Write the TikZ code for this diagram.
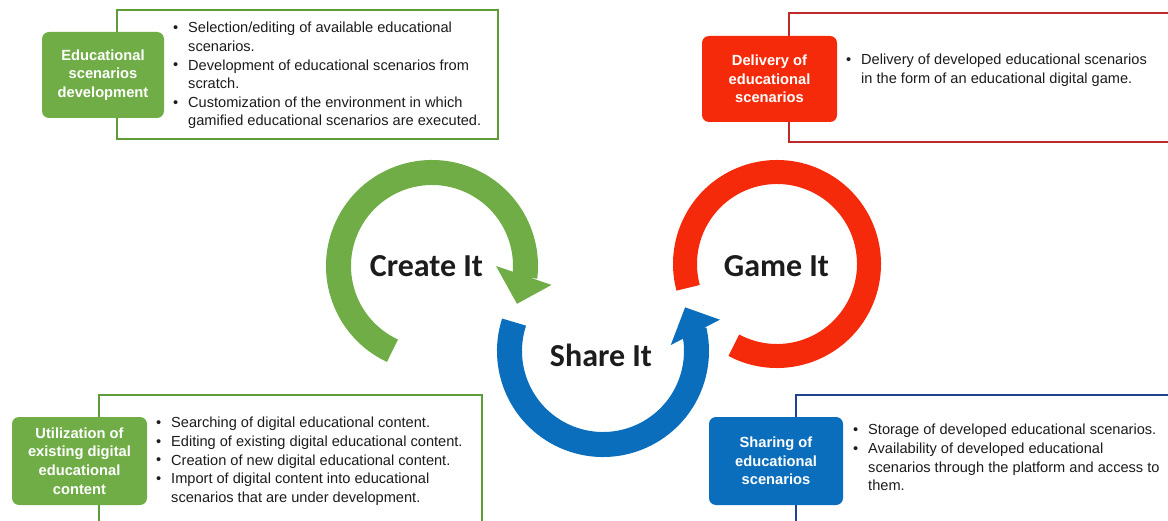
\documentclass[tikz,border=0pt]{standalone}
\usepackage{fontspec}
\setmainfont{Liberation Sans}
\newfontfamily\ringfont{Carlito}

\definecolor{grn}{HTML}{70AD47}
\definecolor{grnline}{HTML}{5E9C3A}
\definecolor{rd}{HTML}{F52A0A}
\definecolor{rdline}{HTML}{BE2A2A}
\definecolor{bl}{HTML}{0A6EBD}
\definecolor{blline}{HTML}{1F4390}
\definecolor{ink}{HTML}{1C1C1C}

% bullet cell of the two-column lists
\newcommand{\bulletrow}{\makebox[15pt][l]{\raisebox{0.3pt}{•}}}

\tikzset{
  panel/.style={draw=#1, line width=2.7pt, fill=white},
  tag/.style={rounded corners=7pt, inner sep=0pt, text=white, align=center,
    font=\bfseries\fontsize{14.7}{18.6}\selectfont},
  listtext/.style={anchor=base west, inner sep=0pt, text=ink,
    font=\fontsize{14.6}{18.6}\selectfont},
  ringlabel/.style={anchor=base, inner sep=0pt, text=ink,
    font=\ringfont\bfseries\fontsize{32}{36}\selectfont},
  ring/.style={line width=25pt},
}

\begin{document}
\begin{tikzpicture}[x=1pt, y=1pt]
\useasboundingbox[fill=white] (0,0) rectangle (1168,-521);

% ---------- panels ----------
\draw[panel=grnline] (117,-10) rectangle (498,-139);
\draw[panel=rdline]  (789,-13) rectangle (1185,-142);
\draw[panel=grnline] (99,-395) rectangle (482,-535);
\draw[panel=blline]  (796,-395) rectangle (1185,-535);

% ---------- tags ----------
\node[tag, fill=grn, minimum width=122pt, minimum height=86pt] (tagcreate) at (103,-75)
  {Educational\\scenarios\\development};
\node[tag, fill=rd, minimum width=135pt, minimum height=86pt] (taggame) at (769.5,-79)
  {Delivery of\\educational\\scenarios};
\node[tag, fill=grn, minimum width=135pt, minimum height=88pt] (tagcontent) at (79.5,-461)
  {Utilization of\\existing digital\\educational\\content};
\node[tag, fill=bl, minimum width=134pt, minimum height=88pt] (tagshare) at (776,-461)
  {Sharing of\\educational\\scenarios};

% ---------- bullet lists ----------
\node[listtext] (listcreate) at (173,-33) {\begin{tabular}[t]{@{}l@{}l@{}}
  \bulletrow & Selection/editing of available educational\\
             & scenarios.\\
  \bulletrow & Development of educational scenarios from\\
             & scratch.\\
  \bulletrow & Customization of the environment in which\\
             & gamified educational scenarios are executed.
\end{tabular}};

\node[listtext] (listgame) at (846,-65) {\begin{tabular}[t]{@{}l@{}l@{}}
  \bulletrow & Delivery of developed educational scenarios\\
             & in the form of an educational digital game.
\end{tabular}};

\node[listtext] (listcontent) at (156,-428) {\begin{tabular}[t]{@{}l@{}l@{}}
  \bulletrow & Searching of digital educational content.\\
  \bulletrow & Editing of existing digital educational content.\\
  \bulletrow & Creation of new digital educational content.\\
  \bulletrow & Import of digital content into educational\\
             & scenarios that are under development.
\end{tabular}};

\node[listtext] (listshare) at (853,-435) {\begin{tabular}[t]{@{}l@{}l@{}}
  \bulletrow & Storage of developed educational scenarios.\\
  \bulletrow & Availability of developed educational\\
             & scenarios through the platform and access to\\
             & them.
\end{tabular}};

% ---------- cycle arrows ----------
\coordinate (cG) at (432,-266);
\coordinate (cB) at (603,-351);
\coordinate (cR) at (777,-264);

% Create It: clockwise arc with head pointing down
\draw[ring, grn] (cG) ++(245:93.5pt) arc[start angle=245, end angle=-7, radius=93.5pt];
\fill[grn] (cG) ++(0:64pt) -- ([shift={(-9:121pt)}]cG) -- ([shift={(-24:93pt)}]cG) -- cycle;

% Share It: arc under the middle with head pointing up
\draw[ring, bl] (cB) ++(162:93.5pt) arc[start angle=162, end angle=373, radius=93.5pt];
\fill[bl] (cB) ++(5:68pt) -- ([shift={(15:121pt)}]cB) -- ([shift={(28:93pt)}]cB) -- cycle;

% Game It: open ring
\draw[line width=24pt, rd] (cR) ++(242:92pt) arc[start angle=242, end angle=555, radius=92pt];

% ---------- ring labels ----------
\node[ringlabel] (create) at (426.5,-277) {Create It};
\node[ringlabel] (share)  at (601,-367)   {Share It};
\node[ringlabel] (game)   at (776.5,-277) {Game It};
\end{tikzpicture}
\end{document}
